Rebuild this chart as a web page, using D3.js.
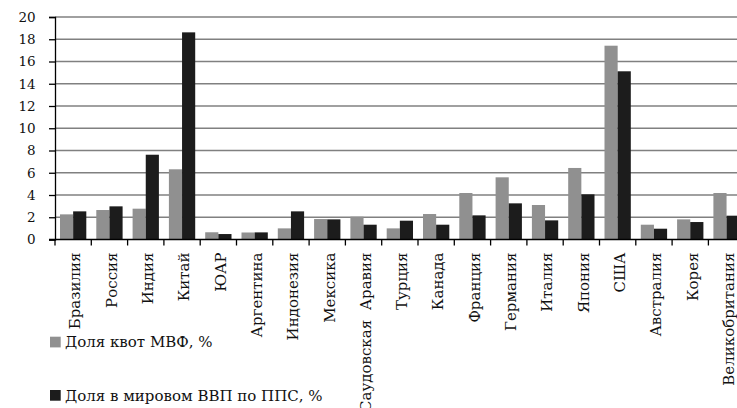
<!DOCTYPE html>
<html><head><meta charset="utf-8">
<script src="https://cdn.jsdelivr.net/npm/d3@7"></script>
<style>body{margin:0;background:#fff}svg{display:block}</style>
</head><body><svg id="c" width="737" height="408"></svg>
<script>
const categories = ["Бразилия","Россия","Индия","Китай","ЮАР","Аргентина","Индонезия","Мексика","Саудовская  Аравия","Турция","Канада","Франция","Германия","Италия","Япония","США","Австралия","Корея","Великобритания"];
const imfQuota = [2.26,2.65,2.77,6.31,0.65,0.63,1.0,1.84,2.05,1.0,2.29,4.18,5.59,3.10,6.43,17.42,1.33,1.81,4.18];
const gdpShare = [2.53,2.98,7.62,18.62,0.49,0.64,2.53,1.81,1.33,1.69,1.33,2.17,3.25,1.72,4.06,15.12,0.97,1.57,2.14];
const seriesNames = ["Доля квот МВФ, %","Доля в мировом ВВП по ППС, %"];
const seriesColors = ["#909090","#1c1c1c"];
const yTicks = [0,2,4,6,8,10,12,14,16,18,20];
const FONT = "'DejaVu Serif', serif";

const svg = d3.select("#c");
const mLeft = 55, mTop = 17, mBottom = 239.5, step = 36.3;
const x = d3.scaleBand().domain(categories).range([mLeft, mLeft + step*categories.length]).padding(0);
const xs = d3.scaleBand().domain([0,1]).range([0, x.bandwidth()]).paddingInner(0).paddingOuter(0.38);
const y = d3.scaleLinear().domain([0,20]).range([mBottom, mTop]);

// gridlines
svg.append("g").selectAll("line").data(yTicks.filter(d=>d>0)).join("line")
  .attr("x1", mLeft).attr("x2", 737).attr("y1", d=>y(d)).attr("y2", d=>y(d))
  .attr("stroke", "#808080").attr("stroke-width", 1.3);

// bars
const data = categories.map((c,i)=>({c, v:[imfQuota[i], gdpShare[i]]}));
const g = svg.append("g").selectAll("g").data(data).join("g").attr("transform", d=>`translate(${x(d.c)},0)`);
g.selectAll("rect").data(d=>d.v.map((v,k)=>({v,k}))).join("rect")
  .attr("x", d=>xs(d.k)).attr("width", xs.bandwidth())
  .attr("y", d=>y(d.v)).attr("height", d=>y(0)-y(d.v))
  .attr("fill", d=>seriesColors[d.k]);

// y axis
const yAxis = d3.axisLeft(y).tickValues(yTicks).tickSize(6).tickPadding(13.3).tickFormat(d3.format("d"));
const ya = svg.append("g").attr("transform", `translate(${mLeft},0)`).call(yAxis);
ya.attr("font-family", FONT).attr("font-size", 13.5);
ya.select(".domain").attr("stroke","#000").attr("stroke-width",1.3);
ya.selectAll(".tick line").attr("stroke","#000").attr("stroke-width",1.3);
ya.selectAll("text").attr("fill","#111");

// x axis
svg.append("line").attr("x1", mLeft-6).attr("x2", 737).attr("y1", mBottom).attr("y2", mBottom).attr("stroke","#000").attr("stroke-width",1.3);
const bounds = categories.map(c=>x(c)).concat([x(categories[categories.length-1]) + x.bandwidth()]);
svg.append("g").selectAll("line").data(bounds).join("line")
  .attr("x1", d=>d).attr("x2", d=>d).attr("y1", mBottom).attr("y2", mBottom+6)
  .attr("stroke","#000").attr("stroke-width",1.3);
svg.append("g").selectAll("text").data(categories).join("text")
  .attr("transform", d=>`translate(${x(d)+x.bandwidth()/2+7.3},${mBottom+13}) rotate(-90)`)
  .attr("text-anchor","end").attr("font-family", FONT).attr("font-size",15).attr("fill","#111")
  .style("white-space","pre").text(d=>d);

// legend
const lg = svg.append("g").selectAll("g").data(seriesNames).join("g")
  .attr("transform", (d,i)=>`translate(50,${336.7 + i*53.3})`);
lg.append("rect").attr("width",10.7).attr("height",10.7).attr("fill",(d,i)=>seriesColors[i]);
lg.append("text").attr("x",15).attr("y",10.5).attr("font-family", FONT).attr("font-size",15).attr("fill","#111").text(d=>d);
</script></body></html>
